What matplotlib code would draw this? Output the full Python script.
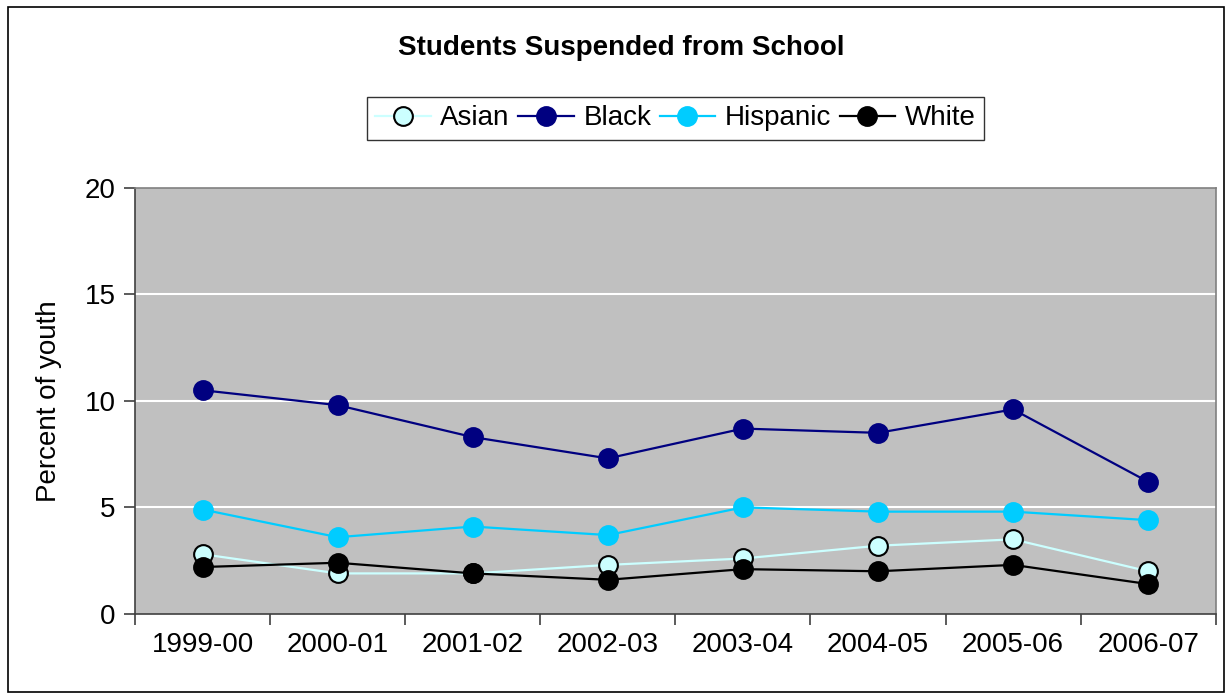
import matplotlib
matplotlib.use("Agg")
import matplotlib.pyplot as plt
from matplotlib.patches import Rectangle

years = ["1999-00", "2000-01", "2001-02", "2002-03", "2003-04", "2004-05", "2005-06", "2006-07"]
asian = [2.8, 1.9, 1.9, 2.3, 2.6, 3.2, 3.5, 2.0]
black = [10.5, 9.8, 8.3, 7.3, 8.7, 8.5, 9.6, 6.2]
hispanic = [4.9, 3.6, 4.1, 3.7, 5.0, 4.8, 4.8, 4.4]
white = [2.2, 2.4, 1.9, 1.6, 2.1, 2.0, 2.3, 1.4]
y_ticks = [0, 5, 10, 15, 20]

plt.rcParams["font.family"] = ["Liberation Sans", "DejaVu Sans"]

fig = plt.figure(figsize=(12.28, 6.96), dpi=100)
ax = fig.add_axes([0.110, 0.118, 0.880, 0.612])
ax.set_facecolor("#C0C0C0")

x = list(range(len(years)))
series = [
    ("Asian", asian, "#CCFFFF", "#CCFFFF", "black"),
    ("Black", black, "#000080", "#000080", "#000080"),
    ("Hispanic", hispanic, "#00CCFF", "#00CCFF", "#00CCFF"),
    ("White", white, "black", "black", "black"),
]
for name, vals, lc, fc, ec in series:
    ax.plot(x, vals, color=lc, lw=1.6, marker="o", markersize=13.5,
            markerfacecolor=fc, markeredgecolor=ec, markeredgewidth=1.5,
            label=name, zorder=3)

ax.set_xlim(-0.5, len(years) - 0.5)
ax.set_ylim(0, 20)
ax.set_yticks(y_ticks)
ax.set_yticklabels([str(v) for v in y_ticks], fontsize=20)
for v in y_ticks[1:-1]:
    ax.axhline(v, color="white", lw=1.5, zorder=1)

ax.set_xticks([i - 0.5 for i in range(len(years) + 1)])
ax.set_xticklabels([])
ax.set_xticks(x, minor=True)
ax.set_xticklabels(years, minor=True, fontsize=20)
ax.tick_params(axis="x", which="minor", length=0, pad=13)
ax.tick_params(axis="x", which="major", length=8, width=1.2, color="#404040")
ax.tick_params(axis="y", length=8, width=1.2, color="#404040", pad=6)

for side in ("left", "bottom"):
    ax.spines[side].set_color("#404040")
    ax.spines[side].set_linewidth(1.2)
for side in ("top", "right"):
    ax.spines[side].set_color("#808080")
    ax.spines[side].set_linewidth(1.2)

ax.set_ylabel("Percent of youth", fontsize=20, labelpad=16)

fig.text(0.506, 0.931, "Students Suspended from School", ha="center", va="center",
         fontsize=20, fontweight="bold")

leg = fig.legend(loc="center", bbox_to_anchor=(0.550, 0.830), ncol=4, fontsize=20,
                 frameon=True, fancybox=False, edgecolor="black", handlelength=2.0,
                 handletextpad=0.35, columnspacing=0.3, borderpad=0.3)
leg.get_frame().set_linewidth(1.0)

fig.add_artist(Rectangle((8 / 1228, 4 / 696), 1216 / 1228, 685 / 696,
                         transform=fig.transFigure, fill=False, edgecolor="black", lw=1.2))

fig.savefig("out.png", dpi=100)
